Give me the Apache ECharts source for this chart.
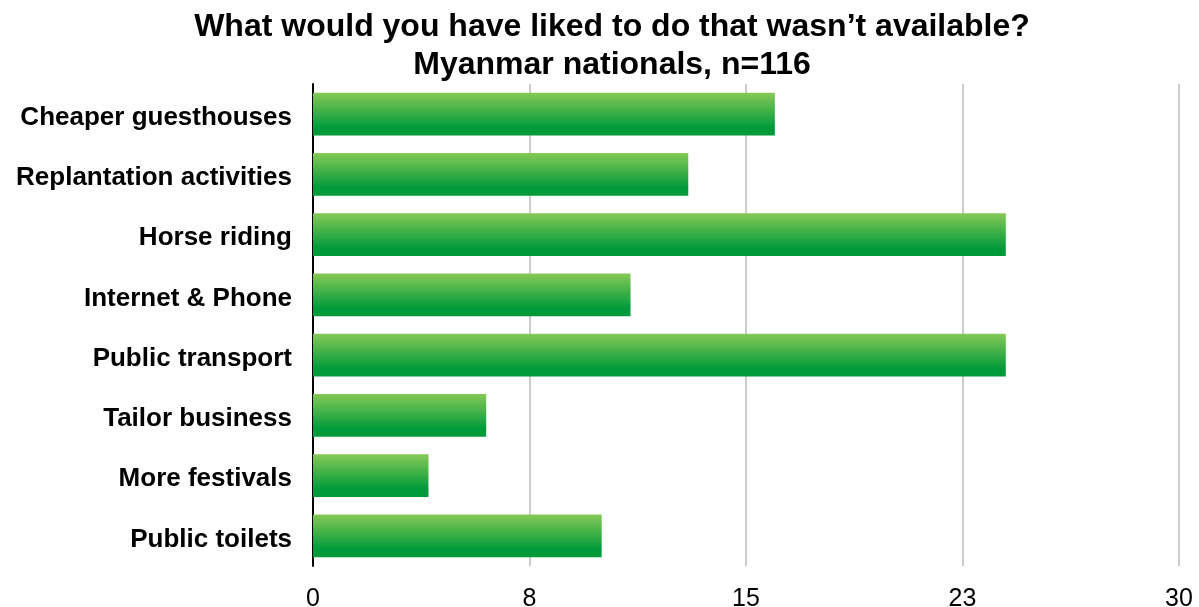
<!DOCTYPE html>
<html>
<head>
<meta charset="utf-8">
<script src="https://cdn.jsdelivr.net/npm/echarts@6/dist/echarts.min.js"></script>
<style>
  html, body { margin: 0; padding: 0; background: #fff; }
  #container { width: 1199px; height: 607px; }
</style>
</head>
<body>
<div id="container"></div>
<script>
const container = document.getElementById('container');
const chartIns = echarts.init(container, undefined, { renderer: 'canvas' });

// 数据
const titleLines = ['What would you have liked to do that wasn\u2019t available?', 'Myanmar nationals, n=116'];
const categories = ['Cheaper guesthouses', 'Replantation activities', 'Horse riding', 'Internet & Phone',
  'Public transport', 'Tailor business', 'More festivals', 'Public toilets'];
const values = [16, 13, 24, 11, 24, 6, 4, 10];
const axisMax = 30;
const axisStep = 7.5;

const FONT = '"Liberation Sans", Arial, Helvetica, sans-serif';

const option = {
  animation: false,
  backgroundColor: '#fff',
  title: {
    text: titleLines.join('\n'),
    left: 607,
    textAlign: 'center',
    top: 3,
    textStyle: {
      fontFamily: FONT,
      fontSize: 32,
      fontWeight: 'bold',
      color: '#000',
      lineHeight: 38
    }
  },
  grid: {
    left: 313,
    right: 20,
    top: 84,
    bottom: 41,
    containLabel: false,
    outerBoundsMode: 'none'
  },
  xAxis: {
    type: 'value',
    min: 0,
    max: axisMax,
    interval: axisStep,
    axisLine: { show: false },
    axisTick: { show: false },
    splitLine: { show: true, lineStyle: { color: '#cccccc', width: 2 } },
    axisLabel: {
      fontFamily: FONT,
      fontSize: 25,
      color: '#000',
      margin: 21,
      formatter: v => String(Math.round(v))
    }
  },
  yAxis: {
    type: 'category',
    inverse: true,
    data: categories,
    axisLine: { show: true, lineStyle: { color: '#000', width: 2 } },
    axisTick: { show: false },
    axisLabel: {
      margin: 21,
      formatter: v => '{c|' + v + '}',
      rich: {
        c: {
          fontFamily: FONT,
          fontSize: 26,
          fontWeight: 'bold',
          color: '#000',
          padding: [7, 0, 0, 0]
        }
      }
    }
  },
  series: [{
    type: 'bar',
    data: values,
    barCategoryGap: '29%',
    itemStyle: {
      color: new echarts.graphic.LinearGradient(0, 0, 0, 1, [
        { offset: 0, color: '#86c956' },
        { offset: 0.82, color: '#009a3b' },
        { offset: 1, color: '#009a3b' }
      ])
    }
  }]
};

chartIns.setOption(option);
</script>
</body>
</html>
